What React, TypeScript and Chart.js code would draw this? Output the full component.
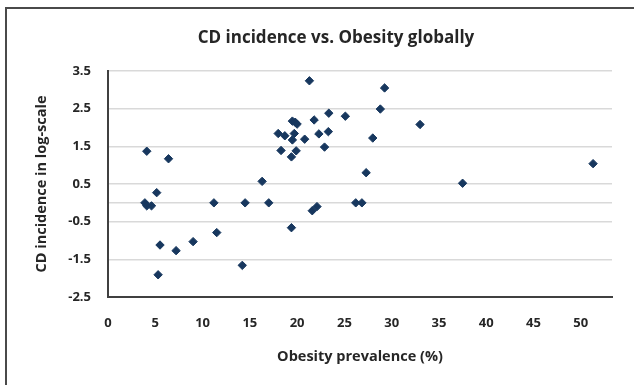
import React, { useEffect, useRef } from "react";
import { Chart, registerables } from "chart.js";

Chart.register(...registerables);

const obesityPrevalence = [
  4.1, 6.4, 3.9, 4.1, 4.6, 5.15, 5.5, 5.3, 7.2, 9.0,
  11.2, 11.5, 14.2, 14.5, 16.3, 17.0, 18.0, 18.7, 18.3, 19.5,
  19.8, 20.0, 19.7, 19.5, 19.4, 19.9, 20.8, 21.3, 21.8, 22.3,
  22.9, 23.35, 23.3, 25.1, 19.4, 21.6, 22.1, 26.2, 26.85, 27.3,
  29.25, 28.8, 33.0, 28.0, 37.5, 51.3,
];
const cdIncidenceLog = [
  1.37, 1.17, 0, -0.08, -0.08, 0.27, -1.12, -1.91, -1.27, -1.03,
  0, -0.79, -1.66, 0, 0.57, 0, 1.84, 1.78, 1.39, 2.17,
  2.14, 2.09, 1.84, 1.67, 1.22, 1.38, 1.69, 3.24, 2.2, 1.83,
  1.48, 2.38, 1.89, 2.3, -0.66, -0.21, -0.1, 0, 0, 0.8,
  3.05, 2.49, 2.08, 1.72, 0.52, 1.04,
];
const xTickValues = [0, 5, 10, 15, 20, 25, 30, 35, 40, 45, 50];
const yTickValues = [-2.5, -1.5, -0.5, 0, 0.5, 1.5, 2.5, 3.5];
const yTickLabels = ["-2.5", "-1.5", "-0.5", "", "0.5", "1.5", "2.5", "3.5"];
const chartTitle = "CD incidence vs. Obesity globally";

const FONT = "'Open Sans', 'DejaVu Sans', sans-serif";
const TEXT = "#262626";

const titlePlugin = {
  id: "offsetTitle",
  afterDraw(chart: any) {
    const ctx = chart.ctx;
    ctx.save();
    ctx.font = `bold 17px ${FONT}`;
    ctx.fillStyle = TEXT;
    ctx.textAlign = "center";
    ctx.textBaseline = "middle";
    ctx.fillText(chartTitle, 336, 38);
    ctx.restore();
  },
};

export default function App() {
  const ref = useRef<HTMLCanvasElement | null>(null);

  useEffect(() => {
    if (!ref.current) return;
    const points = obesityPrevalence.map((x, i) => ({ x, y: cdIncidenceLog[i] }));
    const chart = new Chart(ref.current, {
      type: "scatter",
      data: {
        datasets: [
          {
            data: points,
            pointStyle: "rectRot",
            pointRadius: 4.2,
            pointHoverRadius: 4.2,
            backgroundColor: "#17375e",
            borderColor: "#17375e",
            borderWidth: 1,
          },
        ],
      },
      plugins: [titlePlugin],
      options: {
        animation: false,
        responsive: false,
        layout: { padding: { left: 0, right: 22, top: 71, bottom: 0 } },
        plugins: {
          legend: { display: false },
          tooltip: { enabled: false },
          title: { display: false },
        },
        scales: {
          x: {
            type: "linear",
            min: 0,
            max: 53.3,
            afterBuildTicks: (s: any) => {
              s.ticks = xTickValues.map((v) => ({ value: v }));
            },
            afterFit: (s: any) => {
              s.height = 88;
            },
            grid: { display: false, drawTicks: false },
            border: { display: true, color: "#404040", width: 2 },
            ticks: {
              color: TEXT,
              font: { family: FONT, size: 13, weight: "bold" },
              padding: 18,
              maxRotation: 0,
              autoSkip: false,
            },
            title: {
              display: true,
              text: "Obesity prevalence (%)",
              color: TEXT,
              font: { family: FONT, size: 14.5, weight: "bold" },
              padding: { top: 0, bottom: 19 },
            },
          },
          y: {
            type: "linear",
            min: -2.5,
            max: 3.5,
            afterBuildTicks: (s: any) => {
              s.ticks = yTickValues.map((v) => ({ value: v }));
            },
            afterFit: (s: any) => {
              s.width = 108;
            },
            grid: { color: "#d9d9d9", lineWidth: 1.5, drawTicks: false },
            border: { display: true, color: "#404040", width: 2 },
            ticks: {
              color: TEXT,
              font: { family: FONT, size: 13, weight: "bold" },
              padding: 17,
              autoSkip: false,
              callback: (_v: any, i: number) => yTickLabels[i],
            },
            title: {
              display: true,
              text: "CD incidence in log-scale",
              color: TEXT,
              font: { family: FONT, size: 14.5, weight: "bold" },
              padding: { top: 33, bottom: 0 },
            },
          },
        },
      },
    });
    return () => chart.destroy();
  }, []);

  return (
    <div
      style={{
        position: "fixed",
        left: 0,
        top: 0,
        width: 634,
        height: 385,
        overflow: "hidden",
        background: "#ffffff",
      }}
    >
      <div
        style={{
          position: "absolute",
          left: 5,
          top: 7,
          width: 629,
          height: 378,
          borderLeft: "2px solid #4a4a4a",
          borderTop: "2px solid #4a4a4a",
          boxSizing: "border-box",
        }}
      />
      <canvas
        ref={ref}
        width={634}
        height={385}
        style={{ position: "absolute", left: 0, top: 0, width: 634, height: 385 }}
      />
    </div>
  );
}
